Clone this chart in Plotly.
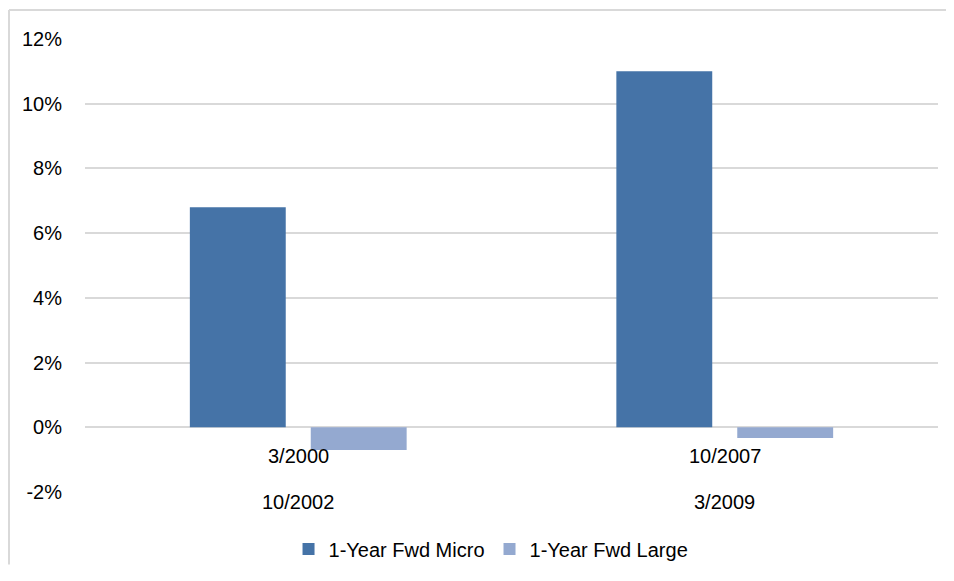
import plotly.graph_objects as go

categories = ["3/2000\n10/2002", "10/2007\n3/2009"]
cat_line1 = ["3/2000", "10/2007"]
cat_line2 = ["10/2002", "3/2009"]
micro = [6.8, 11.0]
large = [-0.7, -0.33]
y_ticks = [-2, 0, 2, 4, 6, 8, 10, 12]
y_tick_labels = ["-2%", "0%", "2%", "4%", "6%", "8%", "10%", "12%"]

FONT = "Liberation Sans Narrow, Arial Narrow, Liberation Sans, Arial, sans-serif"
FS = 20

fig = go.Figure()
fig.add_trace(go.Bar(name="1-Year Fwd Micro", x=categories, y=micro,
                     marker=dict(color="#4573A7", line=dict(width=0))))
fig.add_trace(go.Bar(name="1-Year Fwd Large", x=categories, y=large,
                     marker=dict(color="#94A9D0", line=dict(width=0))))

for c, l1, l2 in zip(categories, cat_line1, cat_line2):
    fig.add_annotation(x=c, y=0, xref="x", yref="y", text=l1, showarrow=False,
                       yanchor="middle", yshift=-29, font=dict(size=FS, color="#000000", family=FONT))
    fig.add_annotation(x=c, y=0, xref="x", yref="y", text=l2, showarrow=False,
                       yanchor="middle", yshift=-75, font=dict(size=FS, color="#000000", family=FONT))

# chart-area border (only top and left edges visible in the reference)
fig.add_shape(type="line", xref="paper", yref="paper", x0=-0.0891, x1=1.0094, y0=1.064, y1=1.064,
              line=dict(color="#d9d9d9", width=2), layer="below")
fig.add_shape(type="line", xref="paper", yref="paper", x0=-0.0891, x1=-0.0891, y0=-0.16, y1=1.064,
              line=dict(color="#d9d9d9", width=2), layer="below")

fig.update_layout(
    width=938, height=558,
    margin=dict(l=77, r=8, t=31, b=74, autoexpand=False),
    paper_bgcolor="white", plot_bgcolor="white",
    barmode="group", bargap=0.433, bargroupgap=0.207,
    font=dict(family=FONT, size=FS, color="#000000"),
    showlegend=True,
    legend=dict(orientation="h", x=0.476, xanchor="center", y=-0.126, yanchor="middle",
                font=dict(size=FS, family=FONT), traceorder="normal", itemsizing="constant"),
    xaxis=dict(showticklabels=False, showgrid=False, zeroline=False, showline=False, ticks=""),
    yaxis=dict(range=[-2, 12], tickvals=y_ticks, ticktext=y_tick_labels, showgrid=True,
               gridcolor="#d9d9d9", gridwidth=2, zeroline=True, zerolinecolor="#d9d9d9",
               zerolinewidth=2, showline=False, ticks="", ticklabelstandoff=22,
               tickfont=dict(size=FS, family=FONT)),
)

fig.write_html("out.html")
